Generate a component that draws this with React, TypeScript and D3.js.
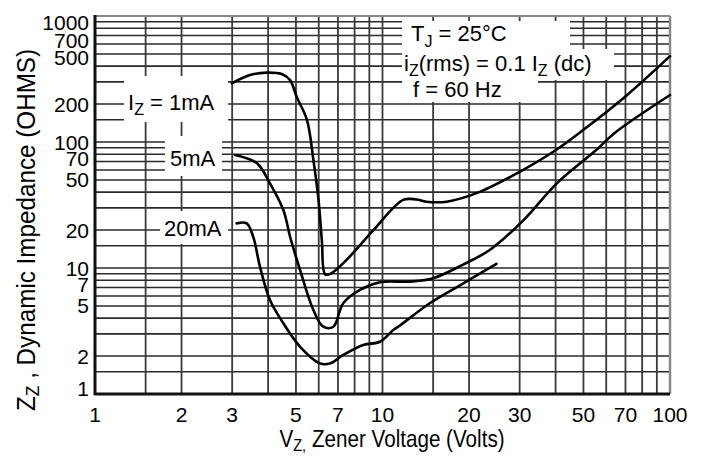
import React from 'react';
import * as d3 from 'd3';

// Zener dynamic impedance vs zener voltage, three test currents
const curve1mA_v = [2.99, 3.46, 3.96, 4.46, 4.77, 5.03, 5.46, 5.75, 5.99, 6.15, 6.32, 6.6, 7.5, 9.3, 11.8, 13.1, 14.2, 16.7, 21.8, 30, 40, 50, 70, 100];
const curve1mA_z = [292, 340, 355, 346, 310, 228, 150, 72, 34.7, 16.7, 8.9, 9.0, 11.6, 20, 34.7, 35, 33.6, 33.6, 40.2, 58, 86, 125, 230, 480];

const curve5mA_v = [3.07, 3.66, 4.06, 4.52, 4.77, 5.17, 5.75, 6.22, 6.75, 7.3, 8.35, 9.8, 12.5, 15, 19, 23.6, 30.9, 40.4, 55.5, 63.9, 100];
const curve5mA_z = [78.9, 67.8, 47, 28.9, 17.7, 9.6, 4.64, 3.42, 3.42, 5.25, 6.7, 7.7, 7.8, 8.3, 10.6, 13.9, 23.9, 47, 86.7, 117, 236];

const curve20mA_v = [3.11, 3.37, 3.55, 3.75, 4.06, 4.52, 5.17, 6.06, 6.57, 7.3, 8.57, 9.8, 10.9, 11.5, 14.6, 19.1, 24.9];
const curve20mA_z = [22.6, 22.6, 17.7, 10.2, 5.57, 3.64, 2.37, 1.75, 1.75, 2.04, 2.45, 2.6, 3.22, 3.5, 5.25, 7.55, 10.8];

const xTickLabels = [1, 2, 3, 5, 7, 10, 20, 30, 50, 70, 100];
const yTickLabels = [1, 2, 5, 7, 10, 20, 50, 70, 100, 200, 500, 700, 1000];
const gridMantissas = [1, 1.5, 2, 3, 4, 5, 6, 7, 8, 9];
const xDecades = [1, 10];
const yDecades = [1, 10, 100];

const W = 701;
const H = 459;
const plot = { left: 95, right: 670, top: 16, bottom: 394 };
const font = "'Liberation Sans', Arial, sans-serif";

export default function App() {
  const x = d3.scaleLog().domain([1, 100]).range([plot.left, plot.right]);
  const y = d3.scaleLog().domain([1, 1000]).range([plot.bottom, plot.top]);

  const xGrid = xDecades.flatMap((d) => gridMantissas.map((m) => m * d)).concat([100]);
  const yGrid = yDecades.flatMap((d) => gridMantissas.map((m) => m * d)).concat([1000]);

  const line = d3
    .line<[number, number]>()
    .x((d) => x(d[0]))
    .y((d) => y(d[1]))
    .curve(d3.curveCatmullRom.alpha(0.5));

  const curves = [
    d3.zip(curve1mA_v, curve1mA_z) as [number, number][],
    d3.zip(curve5mA_v, curve5mA_z) as [number, number][],
    d3.zip(curve20mA_v, curve20mA_z) as [number, number][],
  ];

  // small vertical nudges for crowded y labels
  const yLabelShift: Record<number, number> = { 1000: 6, 700: 5, 500: 4, 70: -3, 7: -3, 1: -6 };

  return (
    <div style={{ position: 'absolute', left: 0, top: 0 }}>
      <svg width={W} height={H} style={{ display: 'block', background: '#fff' }}>
        {/* grid */}
        <g>
          {yGrid.map((v) => (
            <line key={'gy' + v} x1={plot.left} x2={plot.right} y1={y(v)} y2={y(v)} stroke="#2a2a2a" strokeWidth={1.6} />
          ))}
          {xGrid.map((v) => (
            <line key={'gx' + v} x1={x(v)} x2={x(v)} y1={plot.top} y2={plot.bottom} stroke="#3a3a3a" strokeWidth={1.8} />
          ))}
        </g>

        {/* frame */}
        <line x1={plot.left} x2={plot.right} y1={plot.top} y2={plot.top} stroke="#888" strokeWidth={2} />
        <line x1={plot.right} x2={plot.right} y1={plot.top} y2={plot.bottom} stroke="#888" strokeWidth={2.5} />
        <line x1={plot.left} x2={plot.left} y1={plot.top - 1} y2={plot.bottom + 1} stroke="#111" strokeWidth={3} />
        <line x1={plot.left - 1} x2={plot.right} y1={plot.bottom} y2={plot.bottom} stroke="#111" strokeWidth={3} />

        {/* white label backgrounds */}
        <rect x={124} y={76} width={104} height={46} fill="#fff" />
        <rect x={165} y={136} width={57} height={40} fill="#fff" />
        <rect x={160} y={211} width={68} height={33} fill="#fff" />
        <rect x={402} y={21} width={168} height={28} fill="#fff" />
        <rect x={402} y={49} width={212} height={31} fill="#fff" />
        <rect x={402} y={80} width={136} height={22} fill="#fff" />

        {/* curves */}
        {curves.map((c, i) => (
          <path key={i} d={line(c) || ''} fill="none" stroke="#000" strokeWidth={2.6} strokeLinejoin="round" strokeLinecap="round" />
        ))}

        {/* curve labels */}
        <g fontFamily={font} fontSize={22} fill="#000">
          <text x={128} y={110}>
            I<tspan fontSize={16} dy={5}>Z</tspan>
            <tspan dy={-5}> = 1mA</tspan>
          </text>
          <text x={170} y={166}>5mA</text>
          <text x={164} y={236}>20mA</text>
        </g>

        {/* conditions */}
        <g fontFamily={font} fontSize={22} fill="#000">
          <text x={411} y={41}>
            T<tspan fontSize={16} dy={6}>J</tspan>
            <tspan dy={-6}> = 25°C</tspan>
          </text>
          <text x={404} y={71}>
            i<tspan fontSize={16} dy={5}>Z</tspan>
            <tspan dy={-5}>(rms) = 0.1 I</tspan>
            <tspan fontSize={16} dy={5}>Z</tspan>
            <tspan dy={-5}> (dc)</tspan>
          </text>
          <text x={413} y={97}>f = 60 Hz</text>
        </g>

        {/* y tick labels */}
        <g fontFamily={font} fontSize={21} fill="#000" textAnchor="end">
          {yTickLabels.map((v) => (
            <text key={'ty' + v} x={89} y={y(v) + (yLabelShift[v] || 0)} dy="0.36em">
              {v}
            </text>
          ))}
        </g>

        {/* x tick labels */}
        <g fontFamily={font} fontSize={21} fill="#000" textAnchor="middle">
          {xTickLabels.map((v) => (
            <text key={'tx' + v} x={x(v)} y={422}>
              {v}
            </text>
          ))}
        </g>

        {/* axis titles */}
        <text transform="translate(392,447) scale(0.86,1)" fontFamily={font} fontSize={24} textAnchor="middle">
          V<tspan fontSize={17} dy={4}>Z,</tspan>
          <tspan dy={-4}> Zener Voltage (Volts)</tspan>
        </text>
        <text transform="translate(35,230) rotate(-90) scale(0.97,1)" fontFamily={font} fontSize={25} textAnchor="middle">
          Z<tspan fontSize={18} dy={4}>Z</tspan>
          <tspan dy={-4}> , Dynamic Impedance  (OHMS)</tspan>
        </text>
      </svg>
    </div>
  );
}
